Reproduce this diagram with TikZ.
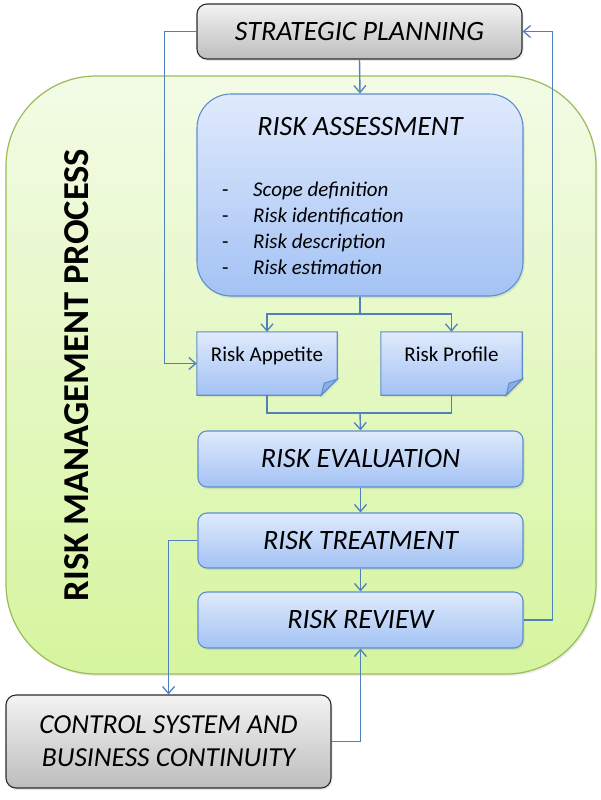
\documentclass[tikz,border=0pt]{standalone}
\usepackage{fontspec}
\setmainfont{Carlito}
\usetikzlibrary{arrows.meta,shadows,backgrounds}
\definecolor{linec}{HTML}{4F81BD}
\definecolor{bluetop}{HTML}{E0EAFC}
\definecolor{bluebot}{HTML}{A3C2F4}
\definecolor{blueedge}{HTML}{5E8ED0}
\definecolor{graytop}{HTML}{F3F3F3}
\definecolor{graybot}{HTML}{BDBDBD}
\definecolor{grayedge}{HTML}{2B2B2B}
\definecolor{greentop}{HTML}{F3FBE6}
\definecolor{greenbot}{HTML}{D6F59E}
\definecolor{greenedge}{HTML}{9BBB59}
\definecolor{foldc}{HTML}{8DAEE2}
\tikzset{
  conn/.style={draw=linec, line width=1.4pt},
  arr/.style={conn, -{Straight Barb[length=7pt,width=12pt,line width=1.3pt]}},
  softshadow/.style={drop shadow={opacity=0.18, shadow xshift=1.5pt, shadow yshift=-2pt}},
  graybox/.style={draw=grayedge, line width=1.1pt, top color=graytop, bottom color=graybot,
    rounded corners=10pt, softshadow, inner sep=0pt},
  bluebox/.style={draw=blueedge, line width=1.1pt, top color=bluetop, bottom color=bluebot,
    rounded corners=9pt, softshadow, inner sep=0pt},
  notebox/.style={inner sep=0pt, minimum width=140pt, minimum height=63pt,
    font=\fontsize{21}{25}\selectfont, text height=14pt, text depth=18pt},
  notefill/.style={draw=blueedge, line width=1.1pt, top color=bluetop, bottom color=bluebot},
  title/.style={font=\fontsize{28}{33}\selectfont\itshape},
}
\begin{document}
\begin{tikzpicture}[x=1pt,y=-1pt]
\useasboundingbox (0,0) rectangle (600,800);

% big green process area
\begin{pgfonlayer}{background}
\path[draw=greenedge, line width=1.2pt, top color=greentop, bottom color=greenbot,
  rounded corners=90pt, drop shadow={opacity=0.15, shadow xshift=1.5pt, shadow yshift=-2pt}]
  (6,76) rectangle (596,674);
\end{pgfonlayer}

\node[font=\fontsize{36.5}{40}\selectfont\bfseries, rotate=90] (rmp) at (77,375) {RISK MANAGEMENT PROCESS};

% boxes
\node[graybox, minimum width=325pt, minimum height=55pt, title] (sp) at (359.5,31.5) {STRATEGIC PLANNING};
\node[bluebox, rounded corners=34pt, minimum width=326pt, minimum height=202pt] (ra) at (360,195) {};
\node[title, anchor=base] (rat) at (360,135) {RISK ASSESSMENT};
\node[anchor=base west, align=left, inner sep=0pt,
  font=\fontsize{21}{25.7}\selectfont] (ral) at (222,274)
  {\makebox[31pt][l]{-}\textit{Scope definition}\\
   \makebox[31pt][l]{-}\textit{Risk identification}\\
   \makebox[31pt][l]{-}\textit{Risk description}\\
   \makebox[31pt][l]{-}\textit{Risk estimation}};

\node[notebox] (ap) at (267,363.5) {Risk Appetite};
\node[notebox, minimum width=141pt] (pr) at (451.5,363.5) {Risk Profile};
\begin{pgfonlayer}{background}
\foreach \n in {ap,pr}{
  \path[notefill, drop shadow={opacity=0.15, shadow xshift=1.5pt, shadow yshift=-2pt}]
    (\n.north west) -- (\n.north east) -- ([yshift=16pt]\n.south east)
    -- ([xshift=-16pt]\n.south east) -- (\n.south west) -- cycle;
  \path[draw=blueedge, line width=1pt, fill=foldc]
    ([yshift=16pt]\n.south east) -- ([xshift=-13pt,yshift=12pt]\n.south east)
    -- ([xshift=-16pt]\n.south east) -- cycle;
}
\end{pgfonlayer}

\node[bluebox, minimum width=325pt, minimum height=56pt, title] (re) at (360.5,459) {RISK EVALUATION};
\node[bluebox, minimum width=325pt, minimum height=55pt, title] (rt) at (360.5,540.5) {RISK TREATMENT};
\node[bluebox, minimum width=325pt, minimum height=56pt, title] (rr) at (360.5,620) {RISK REVIEW};

\node[graybox, minimum width=325pt, minimum height=93pt, align=center,
  font=\fontsize{27.5}{33}\selectfont\itshape] (cs) at (168.5,741.5)
  {CONTROL SYSTEM AND\\BUSINESS CONTINUITY};

% connectors
\draw[arr] (sp.south) -- (ra.north);
\coordinate (split) at (360,314);
\draw[conn] (ra.south) -- (split);
\draw[arr] (split) -| (ap.north);
\draw[arr] (split) -| (pr.north);
\coordinate (merge) at (360,413);
\draw[conn] (ap.south) |- (merge) -| (pr.south);
\draw[arr] (merge) -- (re.north);
\draw[arr] (re.south) -- (rt.north);
\draw[arr] (rt.south) -- (rr.north);
\draw[arr] (sp.west) -- ++(-32,0) |- (ap.west);
\draw[arr] (rr.east) -- ++(29,0) |- (sp.east);
\draw[arr] (rt.west) -| (cs.north);
\draw[arr] (cs.east) -| (rr.south);
\end{tikzpicture}
\end{document}
